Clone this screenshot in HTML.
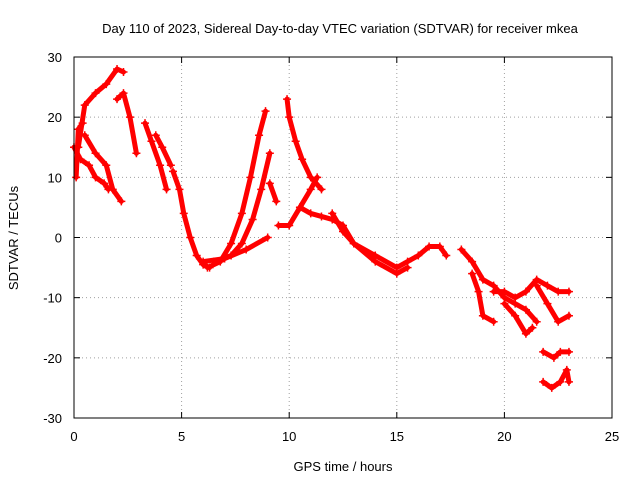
<!DOCTYPE html>
<html><head><meta charset="utf-8"><style>
body{margin:0;background:#fff}
svg text{font-family:"Liberation Sans",sans-serif;font-size:13px;fill:#000}
</style></head><body>
<svg id="c" width="640" height="480">
<text x="340" y="33" text-anchor="middle">Day 110 of 2023, Sidereal Day-to-day VTEC variation (SDTVAR) for receiver mkea</text>
<text x="343" y="471" text-anchor="middle">GPS time / hours</text>
<text transform="translate(18,238) rotate(-90)" text-anchor="middle">SDTVAR / TECUs</text>
<g id="grid"></g><g id="ticks"></g><g id="marks"></g>
<rect x="74" y="57" width="538" height="361" fill="none" stroke="#000"/>
</svg>
<script>
const xTicks=[0,5,10,15,20,25];
const yTicks=[-30,-20,-10,0,10,20,30];
const trackHours=[
[0,0.3,0.7,1,1.4,1.6],
[0.2,0.5,1,1.5,2,2.3],
[0.5,1,1.5,1.8,2.2],
[2.0,2.3,2.6,2.9],
[0.1,0.2,0.4],
[3.3,3.6,4,4.3],
[3.8,4.1,4.5],
[4.6,4.9,5.1,5.4,5.7,6,6.3],
[6.2,6.8,7.3,7.8,8.2,8.6,8.9],
[6.5,7.3,7.8,8.3,8.7,9.1],
[6,7,8,9],
[9.9,10,10.3,10.6,11,11.5],
[9.5,10,10.5,11,11.3],
[9.1,9.4],
[10.5,11,11.5,12,12.5,13,14,15,15.5,16,16.5,17,17.3],
[12,12.5,13,14,15,15.5],
[18,18.5,19,19.5,20,20.5,21,21.5],
[18.5,18.8,19,19.5],
[19.5,20,20.5,21,21.5,22,22.5,23],
[20,20.5,21,21.3],
[21.5,22,22.5,23],
[21.8,22.3,22.6,23],
[21.8,22.2,22.6,22.9,23]
];
const trackValues=[
[15,13,12,10,9,8],
[15,22,24,25.5,28,27.5],
[17,14,12,8,6],
[23,24,20,14],
[10,18,19],
[19,16,12,8],
[17,15,12],
[11,8,4,0,-3,-4.5,-5],
[-5,-4,-1,4,10,17,21],
[-4,-3,-1,3,8,14],
[-4,-3.5,-2,0],
[23,20,16,13,10,8],
[2,2,5,8,10],
[9,6],
[5,4,3.5,3,2,-1,-3,-5,-4,-3,-1.5,-1.5,-3],
[4,1,-1,-4,-6,-5],
[-2,-4,-7,-8,-10,-11,-12,-14],
[-6,-9,-13,-14],
[-9,-9,-10,-9,-7,-8,-9,-9],
[-11,-13,-16,-15],
[-8,-11,-14,-13],
[-19,-20,-19,-19],
[-24,-25,-24,-22,-24]
];
const NS="http://www.w3.org/2000/svg";
const X=v=>74+v*538/25, Y=v=>237.5-v*361/60;
const grid=document.getElementById('grid'),ticks=document.getElementById('ticks'),marks=document.getElementById('marks');
function mk(t,a,p){const e=document.createElementNS(NS,t);for(const k in a)e.setAttribute(k,a[k]);p.appendChild(e);return e;}
xTicks.forEach(v=>{
 if(v>0&&v<25){const g=mk('line',{x1:X(v),x2:X(v),y1:57,y2:418,stroke:'#a0a0a0','stroke-dasharray':'1,3'},grid);
 
 }
 mk('line',{x1:X(v),x2:X(v),y1:418,y2:412,stroke:'#000'},ticks);mk('line',{x1:X(v),x2:X(v),y1:57,y2:63,stroke:'#000'},ticks);
 const t=mk('text',{x:X(v),y:441,'text-anchor':'middle'},ticks);t.textContent=v;
 
 
});
yTicks.forEach(v=>{
 if(v>-30&&v<30){const g=mk('line',{x1:74,x2:612,y1:Y(v),y2:Y(v),stroke:'#a0a0a0','stroke-dasharray':'1,3'},grid);
 
 }
 mk('line',{x1:74,x2:80,y1:Y(v),y2:Y(v),stroke:'#000'},ticks);mk('line',{x1:606,x2:612,y1:Y(v),y2:Y(v),stroke:'#000'},ticks);
 const t=mk('text',{x:62,y:Y(v)+5,'text-anchor':'end'},ticks);t.textContent=v;
 
 
});
trackHours.forEach((hs,i)=>{
 const vs=trackValues[i];
 const pts=hs.map((h,j)=>X(h)+','+Y(vs[j])).join(' ');
 const pl=mk('polyline',{points:pts,fill:'none',stroke:'#f00','stroke-width':5,'stroke-linejoin':'round','stroke-linecap':'round'},marks);
 
 
 hs.forEach((h,j)=>{
  const x=X(h),y=Y(vs[j]);
  const p=mk('path',{d:`M${x-4},${y}H${x+4}M${x},${y-4}V${y+4}`,stroke:'#f00','stroke-width':1.5},marks);
  
  
 });
});
</script>
</body></html>
